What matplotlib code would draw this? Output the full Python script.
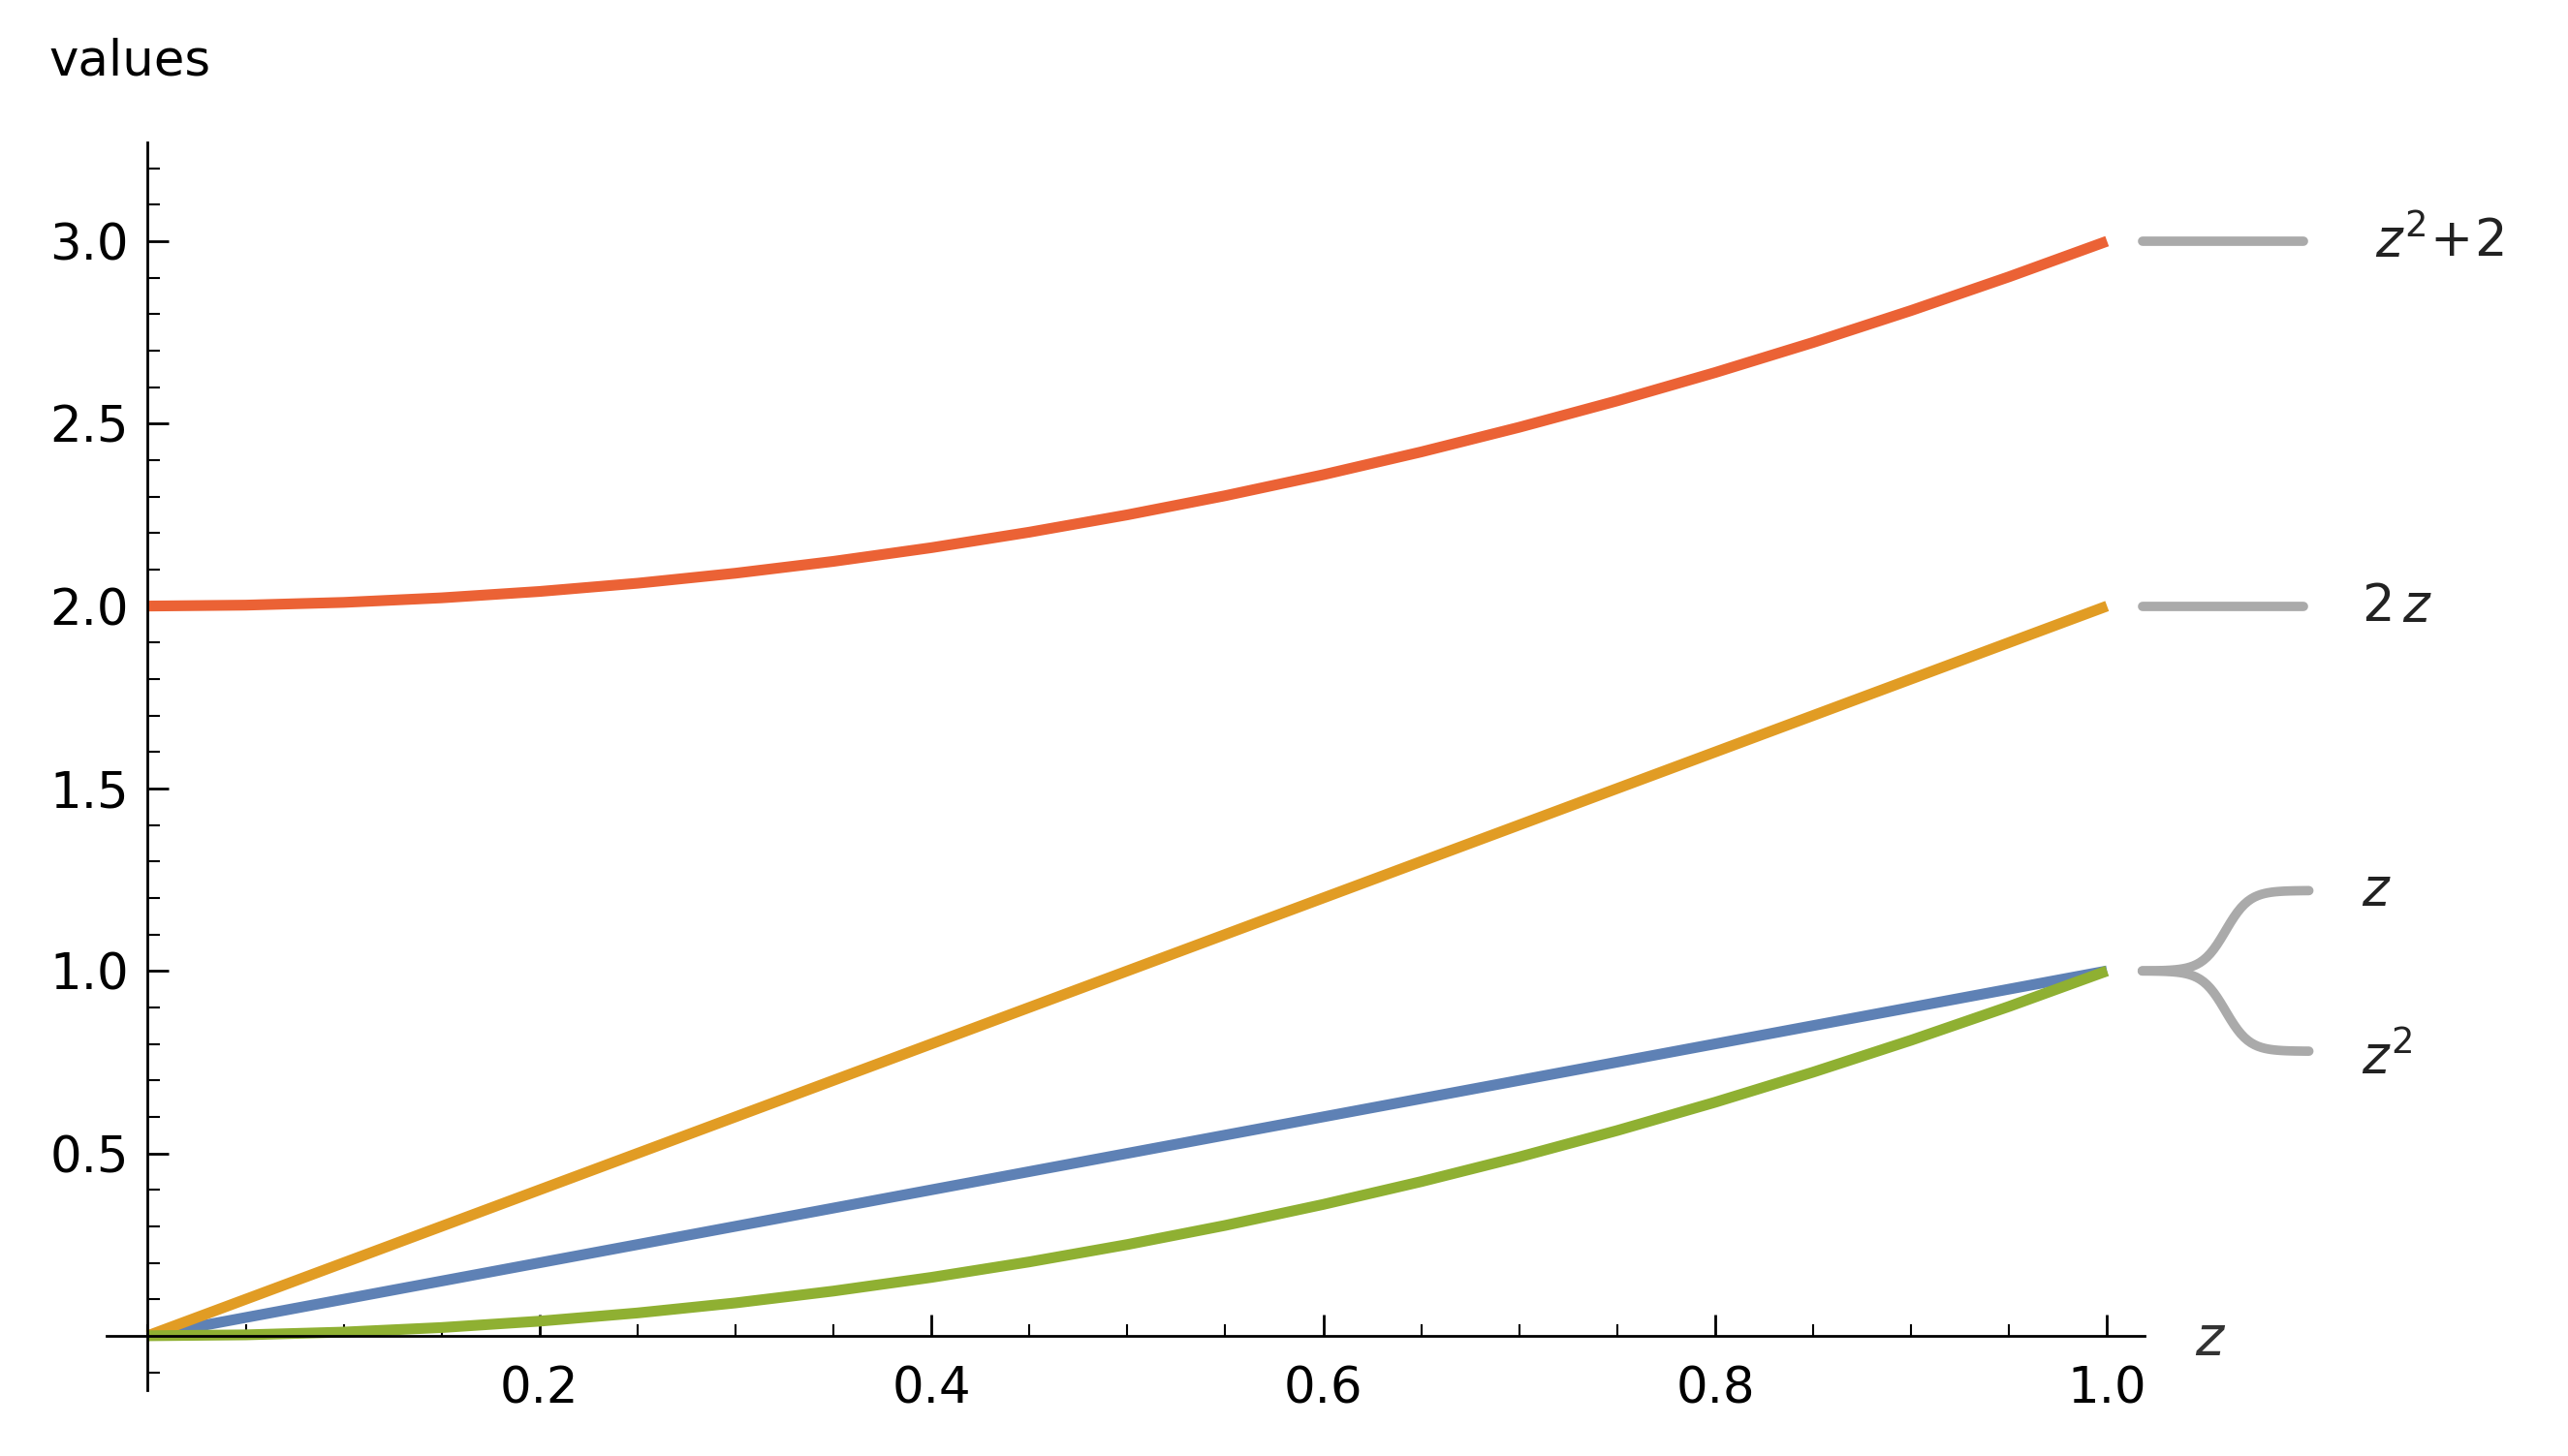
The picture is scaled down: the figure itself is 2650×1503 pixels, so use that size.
import numpy as np
import matplotlib
matplotlib.use("Agg")
import matplotlib.pyplot as plt
from matplotlib.ticker import MultipleLocator

z_vals = [0.0, 0.05, 0.1, 0.15, 0.2, 0.25, 0.3, 0.35, 0.4, 0.45, 0.5, 0.55, 0.6, 0.65, 0.7, 0.75, 0.8, 0.85, 0.9, 0.95, 1.0]
y_z = [0.0, 0.05, 0.1, 0.15, 0.2, 0.25, 0.3, 0.35, 0.4, 0.45, 0.5, 0.55, 0.6, 0.65, 0.7, 0.75, 0.8, 0.85, 0.9, 0.95, 1.0]
y_2z = [0.0, 0.1, 0.2, 0.3, 0.4, 0.5, 0.6, 0.7, 0.8, 0.9, 1.0, 1.1, 1.2, 1.3, 1.4, 1.5, 1.6, 1.7, 1.8, 1.9, 2.0]
y_zsq = [0.0, 0.0025, 0.01, 0.0225, 0.04, 0.0625, 0.09, 0.1225, 0.16, 0.2025, 0.25, 0.3025, 0.36, 0.4225, 0.49, 0.5625, 0.64, 0.7225, 0.81, 0.9025, 1.0]
y_zsq2 = [2.0, 2.0025, 2.01, 2.0225, 2.04, 2.0625, 2.09, 2.1225, 2.16, 2.2025, 2.25, 2.3025, 2.36, 2.4225, 2.49, 2.5625, 2.64, 2.7225, 2.81, 2.9025, 3.0]

fig = plt.figure(figsize=(26.5, 15.03), dpi=100)
ax = fig.add_axes([0.0415, 0.045, 0.7935, 0.857])
lw = 8
ax.plot(z_vals, y_z, color="#5E81B5", lw=lw, solid_capstyle="butt")
ax.plot(z_vals, y_2z, color="#E19C24", lw=lw, solid_capstyle="butt")
ax.plot(z_vals, y_zsq, color="#8FB032", lw=lw, solid_capstyle="butt")
ax.plot(z_vals, y_zsq2, color="#EB6235", lw=lw, solid_capstyle="butt")
ax.set_xlim(-0.021, 1.019)
ax.set_ylim(-0.15, 3.27)

for s in ["top", "right"]:
    ax.spines[s].set_visible(False)
ax.spines["left"].set_position(("data", 0))
ax.spines["bottom"].set_position(("data", 0))
for s in ["left", "bottom"]:
    ax.spines[s].set_linewidth(2)
ax.xaxis.set_minor_locator(MultipleLocator(0.05))
ax.yaxis.set_minor_locator(MultipleLocator(0.1))
ax.set_xticks([0.2, 0.4, 0.6, 0.8, 1.0])
ax.set_xticklabels(["0.2", "0.4", "0.6", "0.8", "1.0"])
ax.set_yticks([0.5, 1.0, 1.5, 2.0, 2.5, 3.0])
ax.set_yticklabels(["0.5", "1.0", "1.5", "2.0", "2.5", "3.0"])
ax.tick_params(axis="both", which="major", direction="in", length=16, width=2, labelsize=37, pad=14)
ax.tick_params(axis="both", which="minor", direction="in", length=9, width=1.5)
ax.tick_params(axis="x", pad=22)

fig.text(0.019, 0.958, "values", fontsize=37, va="center", ha="left")
ax.text(1.045, -0.01, "$z$", fontsize=40, va="center", ha="left", color="#333333")

gray = "#AAAAAA"
kw = dict(color=gray, lw=7, clip_on=False, solid_capstyle="round")
ax.plot([1.018, 1.1], [3.0, 3.0], **kw)
ax.plot([1.018, 1.1], [2.0, 2.0], **kw)
t = np.linspace(0, 1, 50)
xs = 1.018 + 0.085 * t
s = 0.5 * (1 + np.tanh((t - 0.5) * 7)) / (0.5 * (1 + np.tanh(3.5)))
ax.plot(xs, 1.0 + 0.22 * s, **kw)
ax.plot(xs, 1.0 - 0.22 * s, **kw)
tk = dict(fontsize=38, va="center", ha="left", color="#222222", clip_on=False)
ax.text(1.137, 3.0, "$z^2\\!+\\!2$", **tk)
ax.text(1.13, 2.0, "$2\\,z$", **tk)
ax.text(1.13, 1.22, "$z$", **tk)
ax.text(1.13, 0.76, "$z^2$", **tk)

fig.savefig("out.png", dpi=100)
